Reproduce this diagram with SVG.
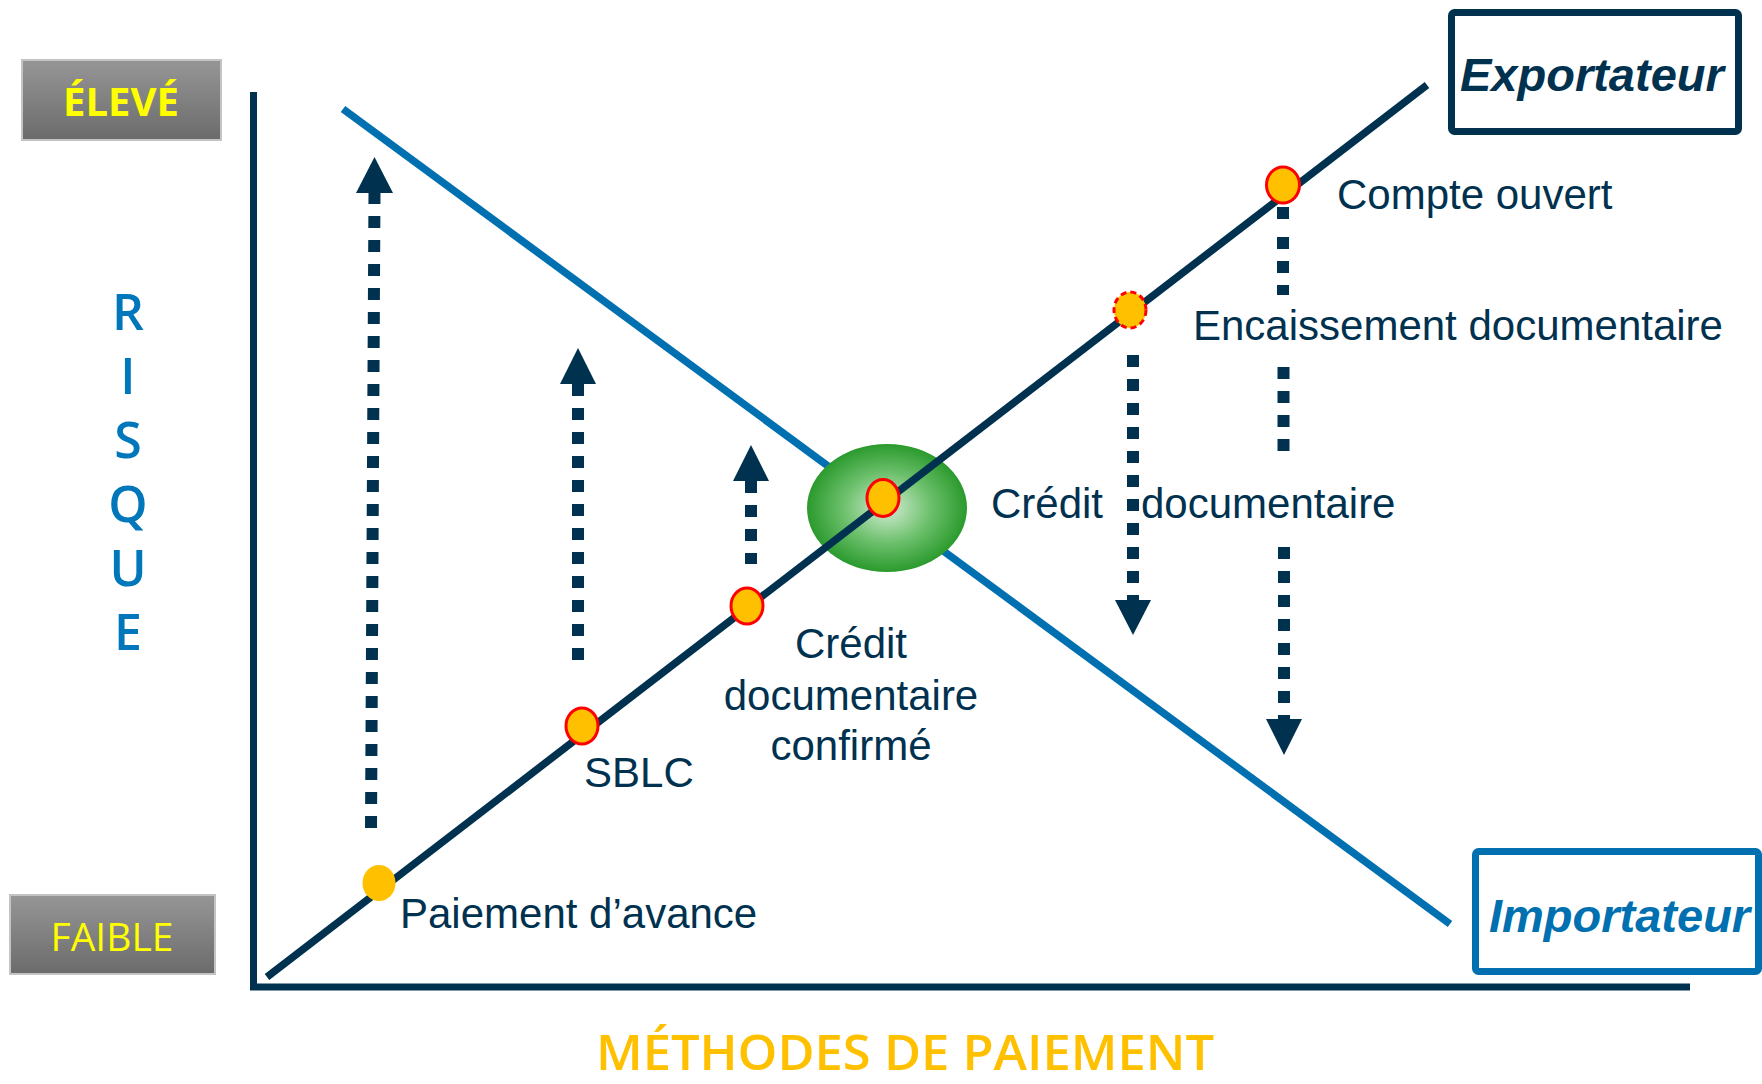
<svg xmlns="http://www.w3.org/2000/svg" width="1762" height="1084" viewBox="0 0 1762 1084">
  <defs>
    <linearGradient id="greyBox" x1="0" y1="0" x2="0" y2="1">
      <stop offset="0" stop-color="#969696"/>
      <stop offset="1" stop-color="#6b6b6b"/>
    </linearGradient>
    <radialGradient id="greenGlow" cx="0.5" cy="0.5" r="0.5">
      <stop offset="0" stop-color="#d4ecd4"/>
      <stop offset="0.55" stop-color="#6cc06c"/>
      <stop offset="1" stop-color="#2b9a2d"/>
    </radialGradient>
  </defs>
  <style>
    .axis { stroke: #00314f; stroke-width: 7; fill: none; }
    .exp { stroke: #00314f; stroke-width: 7.5; stroke-linecap: butt; fill: none; }
    .imp { stroke: #0070b0; stroke-width: 7.5; fill: none; }
    .dash { stroke: #00314f; stroke-width: 12; stroke-dasharray: 12 12; fill: none; }
    .head { fill: #00314f; }
    .dot { fill: #ffc000; stroke: #ff0000; stroke-width: 3; }
    .lbl { font-family: "Liberation Sans", Arial, sans-serif; font-size: 42px; fill: #00314f; }
    .tag { fill: url(#greyBox); stroke: #c4c4c4; stroke-width: 2; }
    .tagtxt { font-family: "Open Sans", "Noto Sans", sans-serif; fill: #ffff00; text-anchor: middle; }
    .risk { font-family: "Open Sans", "Noto Sans", sans-serif; font-weight: 600; font-size: 50px; fill: #0077bb; text-anchor: middle; }
    .actor { font-family: "Liberation Sans", Arial, sans-serif; font-weight: bold; font-style: italic; font-size: 47px; }
  </style>

  <!-- level tags -->
  <g id="tag-eleve">
    <rect class="tag" x="22" y="60" width="199" height="80"/>
    <text class="tagtxt" x="121" y="116" font-size="40" font-weight="bold">ÉLEVÉ</text>
  </g>
  <g id="tag-faible">
    <rect class="tag" x="10" y="895" width="205" height="79"/>
    <text class="tagtxt" x="112" y="951" font-size="39">FAIBLE</text>
  </g>

  <!-- vertical axis title -->
  <g id="axis-title-y">
    <text class="risk" x="128" y="330">R</text>
    <text class="risk" x="128" y="394">I</text>
    <text class="risk" x="128" y="458">S</text>
    <text class="risk" x="128" y="522">Q</text>
    <text class="risk" x="128" y="586">U</text>
    <text class="risk" x="128" y="650">E</text>
  </g>

  <!-- horizontal axis title -->
  <g id="axis-title-x">
    <text x="905" y="1070" font-family="'Open Sans', 'Noto Sans', sans-serif" font-weight="600" font-size="48" fill="#ffc000" text-anchor="middle" textLength="618" lengthAdjust="spacingAndGlyphs">MÉTHODES DE PAIEMENT</text>
  </g>

  <!-- axes -->
  <g id="axes">
    <path class="axis" d="M253.5,92 V990"/>
    <path class="axis" d="M250,987 H1690"/>
  </g>

  <!-- importer risk line -->
  <g id="line-importateur">
    <path class="imp" d="M343,109 L1450,924"/>
  </g>

  <!-- zone of the documentary credit -->
  <g id="zone-credoc">
    <ellipse cx="887" cy="508" rx="80" ry="64" fill="url(#greenGlow)"/>
  </g>

  <!-- exporter risk line -->
  <g id="line-exportateur">
    <path class="exp" d="M267,977 L1427,85"/>
  </g>

  <!-- risk shift arrows -->
  <g id="connectors">
    <!-- upward arrows -->
    <path class="dash" d="M374.5,192 L371,828"/>
    <path class="head" d="M374.5,157 L393,193 L356,193 Z"/>
    <path class="dash" d="M578,384 V660"/>
    <path class="head" d="M578,348 L596,384 L560,384 Z"/>
    <path class="dash" d="M751,481 V564"/>
    <path class="head" d="M751,445 L769,481 L733,481 Z"/>
    <!-- downward arrows -->
    <path class="dash" d="M1133,355 V600"/>
    <path class="head" d="M1115,600 L1151,600 L1133,635 Z"/>
    <path class="dash" d="M1283,207 V222"/>
    <path class="dash" d="M1283,237 V295"/>
    <path class="dash" d="M1283.5,367 V457"/>
    <path class="dash" d="M1284,547 V719"/>
    <path class="head" d="M1266,719 L1302,719 L1284,755 Z"/>
  </g>

  <!-- payment methods -->
  <g id="node-paiement-avance">
    <ellipse cx="379" cy="883" rx="16.5" ry="18" fill="#ffc000"/>
    <text class="lbl" x="400" y="928">Paiement d’avance</text>
  </g>
  <g id="node-sblc">
    <ellipse class="dot" cx="582" cy="726" rx="16" ry="18"/>
    <text class="lbl" x="584" y="787">SBLC</text>
  </g>
  <g id="node-credoc-confirme">
    <ellipse class="dot" cx="747" cy="606" rx="16" ry="18"/>
    <text class="lbl" x="851" y="658" text-anchor="middle">Crédit</text>
    <text class="lbl" x="851" y="710" text-anchor="middle">documentaire</text>
    <text class="lbl" x="851" y="760" text-anchor="middle">confirmé</text>
  </g>
  <g id="node-credoc">
    <ellipse class="dot" cx="883" cy="498" rx="16" ry="18.5"/>
    <text class="lbl" x="991" y="518">Crédit</text>
    <text class="lbl" x="1141" y="518">documentaire</text>
  </g>
  <g id="node-encaissement">
    <ellipse class="dot" cx="1130" cy="310" rx="16" ry="18" stroke-dasharray="6 4"/>
    <text class="lbl" x="1193" y="340" font-size="42.5">Encaissement documentaire</text>
  </g>
  <g id="node-compte-ouvert">
    <ellipse class="dot" cx="1283" cy="185" rx="16.5" ry="18"/>
    <text class="lbl" x="1337" y="209">Compte ouvert</text>
  </g>

  <!-- parties -->
  <g id="node-exportateur">
    <rect x="1451.5" y="12.5" width="287" height="119" rx="3" fill="#ffffff" stroke="#00314f" stroke-width="7"/>
    <text class="actor" x="1460" y="91" fill="#00314f">Exportateur</text>
  </g>
  <g id="node-importateur">
    <rect x="1475.5" y="851.5" width="283" height="120" rx="3" fill="#ffffff" stroke="#0070b0" stroke-width="7"/>
    <text class="actor" x="1489" y="932" font-size="48" fill="#0070b0">Importateur</text>
  </g>
</svg>
